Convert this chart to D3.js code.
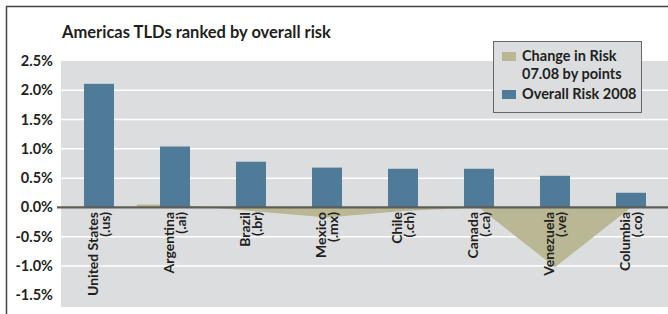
<!DOCTYPE html>
<html>
<head>
<meta charset="utf-8">
<script src="https://cdn.jsdelivr.net/npm/d3@7"></script>
<style>
  body { margin: 0; background: #fff; }
  svg text { font-family: Lato, "Open Sans", sans-serif; font-weight: bold; fill: #231f20; }
</style>
</head>
<body>
<svg width="668" height="314"></svg>
<script>
// Americas TLDs ranked by overall risk
var countries = ["United States", "Argentina", "Brazil", "Mexico", "Chile", "Canada", "Venezuela", "Columbia"];
var tlds = ["(.us)", "(.ai)", "(.br)", "(.mx)", "(.ch)", "(.ca)", "(.ve)", "(.co)"];
var overallRisk = [2.11, 1.04, 0.78, 0.68, 0.66, 0.66, 0.54, 0.25];
var changeRisk = [null, 0.05, -0.06, -0.17, -0.06, 0, -1.02, 0];
var yTicks = [2.5, 2.0, 1.5, 1.0, 0.5, 0.0, -0.5, -1.0, -1.5];
var gridTicks = [2.0, 1.5, 1.0, 0.5, -0.5, -1.0];
var legendItems = [
  {lines: ["Change in Risk", "07.08 by points"], color: "#b9b794"},
  {lines: ["Overall Risk 2008"], color: "#4f7b98"}
];

var svg = d3.select("svg"),
    plot = {left: 61, right: 669, top: 61, bottom: 307};

var x = d3.scaleBand().domain(countries).range([plot.left, plot.right]);
var y = d3.scaleLinear().domain([-1.7, 2.5]).range([plot.bottom, plot.top]);
var barW = 30;

// outer frame (left + top only)
svg.append("path")
    .attr("d", "M6.5,314V6.5H668")
    .attr("fill", "none")
    .attr("stroke", "#444")
    .attr("stroke-width", 1.5);

svg.append("text")
    .attr("x", 62).attr("y", 38)
    .attr("font-size", "16.5px")
    .text("Americas TLDs ranked by overall risk");

// plot background
svg.append("rect")
    .attr("x", plot.left).attr("y", plot.top)
    .attr("width", plot.right - plot.left).attr("height", plot.bottom - plot.top)
    .attr("fill", "#dcdddf");

svg.selectAll(".grid")
    .data(gridTicks)
  .enter().append("line")
    .attr("class", "grid")
    .attr("x1", plot.left).attr("x2", plot.right)
    .attr("y1", function(d) { return y(d); }).attr("y2", function(d) { return y(d); })
    .attr("stroke", "#fff")
    .attr("stroke-width", 1.5);

// y labels
svg.selectAll(".ylab")
    .data(yTicks)
  .enter().append("text")
    .attr("class", "ylab")
    .attr("x", 53)
    .attr("y", function(d) { return y(d) + 5; })
    .attr("text-anchor", "end")
    .attr("font-size", "14.5px")
    .text(function(d) { return d.toFixed(1) + "%"; });

// change area, drawn in runs of defined values, each run widened by half a band
var step = x.step(), runs = [], cur = null;
changeRisk.forEach(function(v, i) {
  if (v == null) { cur = null; return; }
  if (!cur) { cur = []; runs.push(cur); }
  cur.push({x: x(countries[i]) + step / 2, v: v});
});
runs.forEach(function(r) {
  r.unshift({x: r[0].x - step / 2, v: r[0].v});
  r.push({x: r[r.length - 1].x + step / 2, v: r[r.length - 1].v});
});

var area = d3.area()
    .x(function(d) { return d.x; })
    .y0(y(0))
    .y1(function(d) { return y(d.v); });

svg.selectAll(".change")
    .data(runs)
  .enter().append("path")
    .attr("class", "change")
    .attr("d", area)
    .attr("fill", "#b9b794");

// overall risk bars
svg.selectAll(".bar")
    .data(overallRisk)
  .enter().append("rect")
    .attr("class", "bar")
    .attr("x", function(d, i) { return x(countries[i]) + (step - barW) / 2; })
    .attr("width", barW)
    .attr("y", function(d) { return y(d); })
    .attr("height", function(d) { return y(0) - y(d); })
    .attr("fill", "#4f7b98");

// zero line
svg.append("line")
    .attr("x1", 57).attr("x2", 668)
    .attr("y1", y(0)).attr("y2", y(0))
    .attr("stroke", "#5e5d58")
    .attr("stroke-width", 2.2);

// category labels, rotated
var labs = svg.selectAll(".cat")
    .data(countries)
  .enter().append("g")
    .attr("class", "cat")
    .attr("transform", function(d) { return "translate(" + (x(d) + step / 2) + ",212) rotate(-90)"; });

labs.append("text")
    .attr("y", -1)
    .attr("text-anchor", "end")
    .attr("font-size", "14px")
    .text(function(d) { return d; });

labs.append("text")
    .attr("y", 11)
    .attr("text-anchor", "end")
    .attr("font-size", "14px")
    .text(function(d, i) { return tlds[i]; });

// legend
var lg = svg.append("g").attr("transform", "translate(493,41)");
lg.append("rect")
    .attr("x", 0.5).attr("y", 0.5)
    .attr("width", 148).attr("height", 71)
    .attr("fill", "#dcdddf")
    .attr("stroke", "#666")
    .attr("stroke-width", 1);

var lineY = 0;
legendItems.forEach(function(item, i) {
  var by = i === 0 ? 11 : 49;
  lg.append("rect")
      .attr("x", 9).attr("y", by)
      .attr("width", 14).attr("height", 9)
      .attr("fill", item.color);
  item.lines.forEach(function(t, j) {
    lg.append("text")
        .attr("x", 29).attr("y", by + 9 + j * 17.5)
        .attr("font-size", "14.5px")
        .text(t);
  });
});
</script>
</body>
</html>
